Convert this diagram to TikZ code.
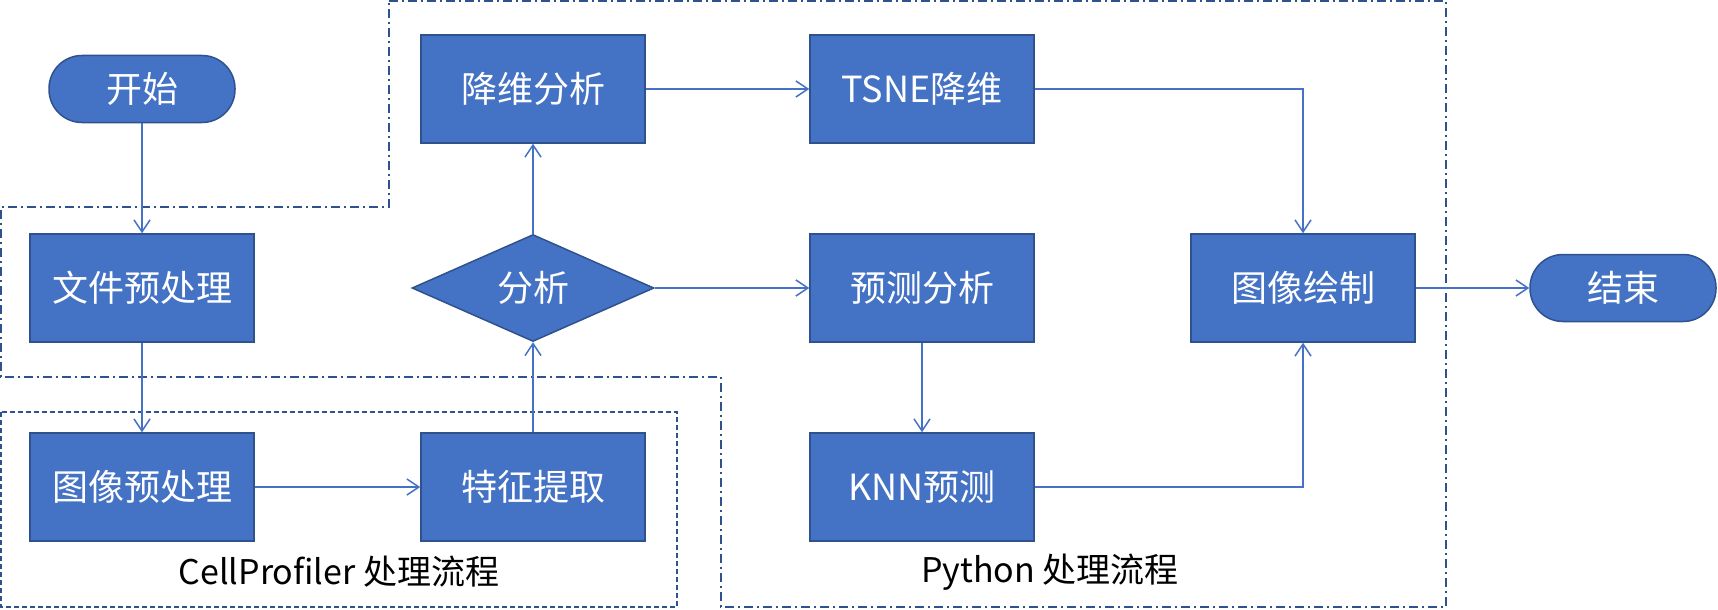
\documentclass[tikz,border=0pt]{standalone}
\usepackage{fontspec}
\usepackage{xcolor}
\usepackage{tikz}
\usetikzlibrary{arrows.meta,shapes.geometric}
\newfontfamily\cjk{Noto Sans CJK SC}
\definecolor{boxblue}{HTML}{4472C4}
\definecolor{rimblue}{HTML}{2F528F}

\begin{document}
\begin{tikzpicture}[x=1pt,y=-1pt]
\tikzstyle{proc}=[rectangle, draw=rimblue, fill=boxblue, line width=1.5pt, minimum width=224pt, minimum height=108pt, inner sep=0pt, text=white, font=\cjk\fontsize{36}{40}\selectfont]
\tikzstyle{term}=[proc, rounded corners=33pt, minimum width=186pt, minimum height=67pt]
\tikzstyle{decide}=[proc, diamond, aspect=2.26, minimum width=242pt, minimum height=107pt]
\tikzstyle{flow}=[draw=boxblue, line width=1.5pt, -{Straight Barb[length=12pt, width=16pt]}]
\tikzstyle{region}=[draw=rimblue, line width=1.8pt, dash pattern=on 9pt off 4pt on 2pt off 4pt]
\tikzstyle{caption}=[font=\cjk\fontsize{34}{38}\selectfont]
\useasboundingbox (0,0) rectangle (1718,610);

% groups
\draw[region] (389,1) -- (1446,1) -- (1446,607) -- (721,607) -- (721,377)
  -- (1,377) -- (1,207) -- (389,207) -- cycle;
\draw[draw=rimblue, line width=1.8pt, dash pattern=on 5pt off 3pt] (1,412) rectangle (677,607);

\node[term] (start) at (142,89) {开始};
\node[proc] (file) at (142,288) {文件预处理};
\node[proc] (imgpre) at (142,487) {图像预处理};
\node[proc] (feat) at (533,487) {特征提取};
\node[decide] (choose) at (533,288) {分析};
\node[proc] (reduce) at (533,89) {降维分析};
\node[proc] (tsne) at (922,89) {TSNE降维};
\node[proc] (pred) at (922,288) {预测分析};
\node[proc] (knn) at (922,487) {KNN预测};
\node[proc] (plot) at (1303,288) {图像绘制};
\node[term] (stop) at (1623,288) {结束};

\node[caption] (cpcap) at (339,572) {CellProfiler 处理流程};
\node[caption] (pycap) at (1050,572) {Python 处理流程};

\path[flow]
(start) edge (file)
(file) edge (imgpre)
(imgpre) edge (feat)
(feat) edge (choose)
(choose) edge (reduce)
    edge (pred)
(reduce) edge (tsne)
(pred) edge (knn)
(plot) edge (stop);
\draw[flow] (tsne) -| (plot);
\draw[flow] (knn) -| (plot);

\end{tikzpicture}
\end{document}
